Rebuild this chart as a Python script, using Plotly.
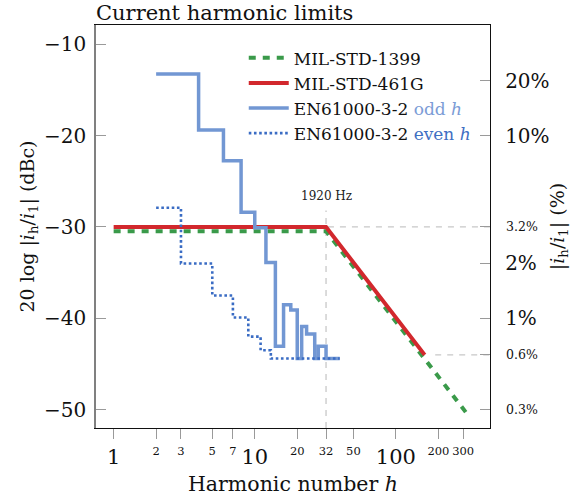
import math
import plotly.graph_objects as go

# ---- data ----
mil1399_h = [1, 32, 320]
mil1399_db = [-30.46, -30.46, -50.46]

mil461_h = [1, 32, 160]
mil461_db = [-30.0, -30.0, -44.0]

odd_h = [2, 4, 6, 8, 10, 12, 14, 16, 18, 20, 21.5, 23.3, 26.6, 28.2, 32, 40]
odd_db = [-13.25, -19.4, -22.75, -28.4, -30.1, -33.9, -43.05, -38.5, -39.1,
          -44.4, -40.9, -41.7, -44.4, -43.05, -44.4, -44.4]

even_h = [2, 3, 5, 7, 9, 11, 13, 40]
even_db = [-27.9, -34.0, -37.5, -39.9, -42.0, -43.5, -44.4, -44.4]

left_ticks = [-10, -20, -30, -40, -50]
x_major = [1, 10, 100]
x_minor = [2, 3, 5, 7, 20, 32, 50, 200, 300]
pct_major = [20, 10, 2, 1]
pct_minor_db = [-30, -44, -50]
pct_minor_text = ["3.2%", "0.6%", "0.3%"]

FONT = "DejaVu Serif"
GRAY = "#9a9a9a"
XR = [-0.125, 2.667]
YR = [-52.0, -7.9]

fig = go.Figure()

# reference dashed lines
fig.add_trace(go.Scatter(x=[32, 32], y=[YR[0], -28.2], mode="lines",
                         line=dict(color="#c8c8c8", width=1.3, dash="6px,6px"),
                         showlegend=False, hoverinfo="skip"))
fig.add_trace(go.Scatter(x=[33, 10 ** XR[1]], y=[-30, -30], mode="lines",
                         line=dict(color="#c8c8c8", width=1.3, dash="6px,6px"),
                         showlegend=False, hoverinfo="skip"))
fig.add_trace(go.Scatter(x=[190, 10 ** XR[1]], y=[-44, -44], mode="lines",
                         line=dict(color="#c8c8c8", width=1.3, dash="6px,6px"),
                         showlegend=False, hoverinfo="skip"))

fig.add_trace(go.Scatter(x=mil1399_h, y=mil1399_db, mode="lines", name="MIL-STD-1399",
                         line=dict(color="#3a9a4a", width=4, dash="7px,7px")))
fig.add_trace(go.Scatter(x=mil461_h, y=mil461_db, mode="lines", name="MIL-STD-461G",
                         line=dict(color="#d2282d", width=4)))
fig.add_trace(go.Scatter(x=odd_h, y=odd_db, mode="lines", line_shape="hv",
                         name="EN61000-3-2 <span style='color:#7b9cd6'>odd <i>h</i></span>",
                         line=dict(color="#7297d3", width=3.5)))
fig.add_trace(go.Scatter(x=even_h, y=even_db, mode="lines", line_shape="hv",
                         name="EN61000-3-2 <span style='color:#3f6fc3'>even <i>h</i></span>",
                         line=dict(color="#3a6cc4", width=2.6, dash="2.6px,2.6px")))

fig.add_annotation(x=math.log10(32), y=-26.6, xref="x", yref="y", text="1920 Hz",
                   showarrow=False, font=dict(family=FONT, size=12, color="#222"))

fig.update_layout(
    width=577, height=504,
    margin=dict(l=96, r=79, t=25, b=76),
    paper_bgcolor="white", plot_bgcolor="white",
    font=dict(family=FONT, color="#111"),
    title=dict(text="Current harmonic limits", x=96 / 577, xanchor="left",
               y=1 - 13 / 504, yanchor="middle", font=dict(family=FONT, size=21, color="#111")),
    showlegend=True,
    legend=dict(x=0.375, y=0.962, xanchor="left", yanchor="top",
                bgcolor="rgba(0,0,0,0)", borderwidth=0,
                font=dict(family=FONT, size=17, color="#111"),
                tracegroupgap=0, itemwidth=40),
    xaxis=dict(type="log", range=XR, tickmode="array", tickvals=x_major,
               ticktext=[str(v) for v in x_major], ticks="outside", ticklen=10,
               tickcolor=GRAY, tickwidth=1.2, showline=True, linecolor="#111",
               linewidth=1.3, mirror=True, showgrid=False, zeroline=False,
               tickfont=dict(family=FONT, size=21), tickangle=0,
               title=dict(text="Harmonic number <i>h</i>", font=dict(family=FONT, size=20.5),
                          standoff=8)),
    xaxis2=dict(type="log", range=XR, overlaying="x", anchor="y", side="bottom",
                tickmode="array", tickvals=x_minor, ticktext=[str(v) for v in x_minor],
                ticks="outside", ticklen=10, tickcolor=GRAY, tickwidth=1.2,
                showline=False, showgrid=False, zeroline=False, tickangle=0,
                ticklabelstandoff=2,
                tickfont=dict(family=FONT, size=11.5)),
    yaxis=dict(range=YR, tickmode="array", tickvals=left_ticks,
               ticktext=["\u2212" + str(-v) for v in left_ticks],
               ticks="inside", ticklen=10, tickcolor=GRAY, tickwidth=1.2,
               showline=True, linecolor="#808080", linewidth=1.5, showgrid=False,
               zeroline=False, tickfont=dict(family=FONT, size=20), ticklabelstandoff=4,
               title=dict(text="20 log |<i>i</i><sub>h</sub>/<i>i</i><sub>1</sub>| (dBc)",
                          font=dict(family=FONT, size=19), standoff=4)),
    yaxis2=dict(range=YR, overlaying="y", side="right", anchor="x", tickmode="array",
                tickvals=[20 * math.log10(p / 100) for p in pct_major],
                ticktext=[f"{p}%" for p in pct_major],
                ticks="inside", ticklen=10, tickcolor=GRAY, tickwidth=1.2,
                showline=True, linecolor="#111", linewidth=1.3, showgrid=False,
                zeroline=False, tickfont=dict(family=FONT, size=20), ticklabelstandoff=10,
                title=dict(text="|<i>i</i><sub>h</sub>/<i>i</i><sub>1</sub>| (%)",
                           font=dict(family=FONT, size=19), standoff=2)),
    yaxis3=dict(range=YR, overlaying="y", side="right", anchor="x", tickmode="array",
                tickvals=pct_minor_db, ticktext=pct_minor_text,
                ticks="inside", ticklen=10, tickcolor=GRAY, tickwidth=1.2,
                showline=False, showgrid=False, zeroline=False, ticklabelstandoff=15,
                tickfont=dict(family=FONT, size=12.5)),
)

# invisible anchor traces so the overlay axes are drawn
fig.add_trace(go.Scatter(x=[1], y=[-30], xaxis="x2", yaxis="y2", mode="markers",
                         marker=dict(opacity=0), showlegend=False, hoverinfo="skip"))
fig.add_trace(go.Scatter(x=[1], y=[-30], xaxis="x2", yaxis="y3", mode="markers",
                         marker=dict(opacity=0), showlegend=False, hoverinfo="skip"))

fig.write_html("out.html")
